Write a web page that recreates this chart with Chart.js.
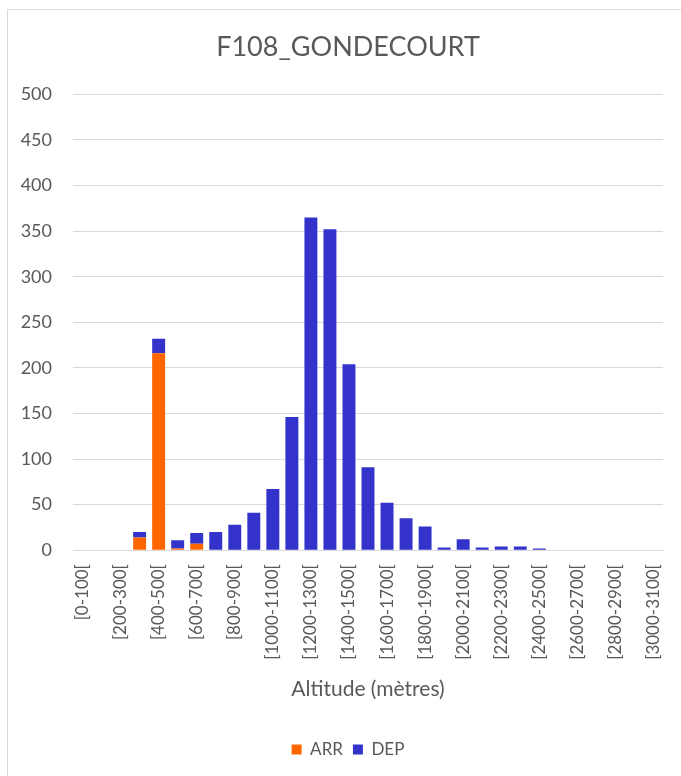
<!DOCTYPE html>
<html>
<head>
<meta charset="utf-8">
<script src="https://cdn.jsdelivr.net/npm/chart.js@4"></script>
<style>
html, body { margin: 0; padding: 0; background: #fff; }
#frame { position: absolute; left: 7px; top: 9px; width: 700px; height: 800px; border: 1px solid #d9d9d9; box-sizing: border-box; }
#myChart { position: absolute; left: 0; top: 0; }
</style>
</head>
<body>
<div id="frame"></div>
<canvas id="myChart" width="681" height="776"></canvas>
<script>
// Tranches d'altitude (axe X)
let tranches = ['[0-100[', '[100-200[', '[200-300[', '[300-400[', '[400-500[', '[500-600[',
    '[600-700[', '[700-800[', '[800-900[', '[900-1000[', '[1000-1100[', '[1100-1200[',
    '[1200-1300[', '[1300-1400[', '[1400-1500[', '[1500-1600[', '[1600-1700[', '[1700-1800[',
    '[1800-1900[', '[1900-2000[', '[2000-2100[', '[2100-2200[', '[2200-2300[', '[2300-2400[',
    '[2400-2500[', '[2500-2600[', '[2600-2700[', '[2700-2800[', '[2800-2900[', '[2900-3000[',
    '[3000-3100['];

// Valeurs
let arr = [0, 0, 0, 14, 216, 2, 7, 0, 0, 0, 0, 0, 0, 0, 0, 0, 0, 0, 0, 0, 0, 0, 0, 0, 0, 0, 0, 0, 0, 0, 0];
let dep = [0, 0, 0, 6, 16, 9, 12, 20, 28, 41, 67, 146, 365, 352, 204, 91, 52, 35, 26, 3, 12, 3, 4, 4, 2, 0, 0, 0, 0, 0, 0];

let grisTexte = '#595959';
let police = 'Lato, "Open Sans", sans-serif';

let ctx = document.getElementById('myChart').getContext('2d');
let myChart = new Chart(ctx, {
    type: 'bar',
    data: {
        labels: tranches,
        datasets: [
            { label: 'ARR', data: arr, backgroundColor: '#FF6600', barPercentage: 0.68, categoryPercentage: 1 },
            { label: 'DEP', data: dep, backgroundColor: '#3333CC', barPercentage: 0.68, categoryPercentage: 1 }
        ]
    },
    options: {
        responsive: false,
        animation: false,
        layout: { padding: { left: 33, right: 18, top: 12, bottom: 8 } },
        plugins: {
            title: {
                display: true,
                text: 'F108_GONDECOURT',
                color: grisTexte,
                font: { family: police, size: 27, weight: 'normal' },
                padding: { top: 19, bottom: 31 }
            },
            legend: {
                position: 'bottom',
                labels: {
                    color: grisTexte,
                    font: { family: police, size: 17 },
                    boxWidth: 10,
                    boxHeight: 10,
                    padding: 10
                }
            },
            tooltip: { enabled: false }
        },
        scales: {
            x: {
                stacked: true,
                grid: { display: false },
                border: { color: '#d9d9d9' },
                ticks: {
                    autoSkip: false,
                    maxRotation: 90,
                    minRotation: 90,
                    padding: 6,
                    color: grisTexte,
                    font: { family: police, size: 17 },
                    callback: function (val, i) { return i % 2 === 0 ? tranches[i] : ''; }
                },
                title: {
                    display: true,
                    text: 'Altitude (mètres)',
                    color: grisTexte,
                    font: { family: police, size: 21 },
                    padding: { top: 11, bottom: 29 }
                }
            },
            y: {
                stacked: true,
                min: 0,
                max: 500,
                afterFit: function (scale) {
                    // axe étroit, les libellés débordent à gauche sans être coupés
                    scale.width = 40;
                    scale._computeLabelArea = function () { return undefined; };
                },
                grid: { color: '#d9d9d9', drawTicks: false },
                border: { display: false },
                ticks: {
                    stepSize: 50,
                    padding: 21,
                    color: grisTexte,
                    font: { family: police, size: 18 }
                }
            }
        }
    }
});
</script>
</body>
</html>
